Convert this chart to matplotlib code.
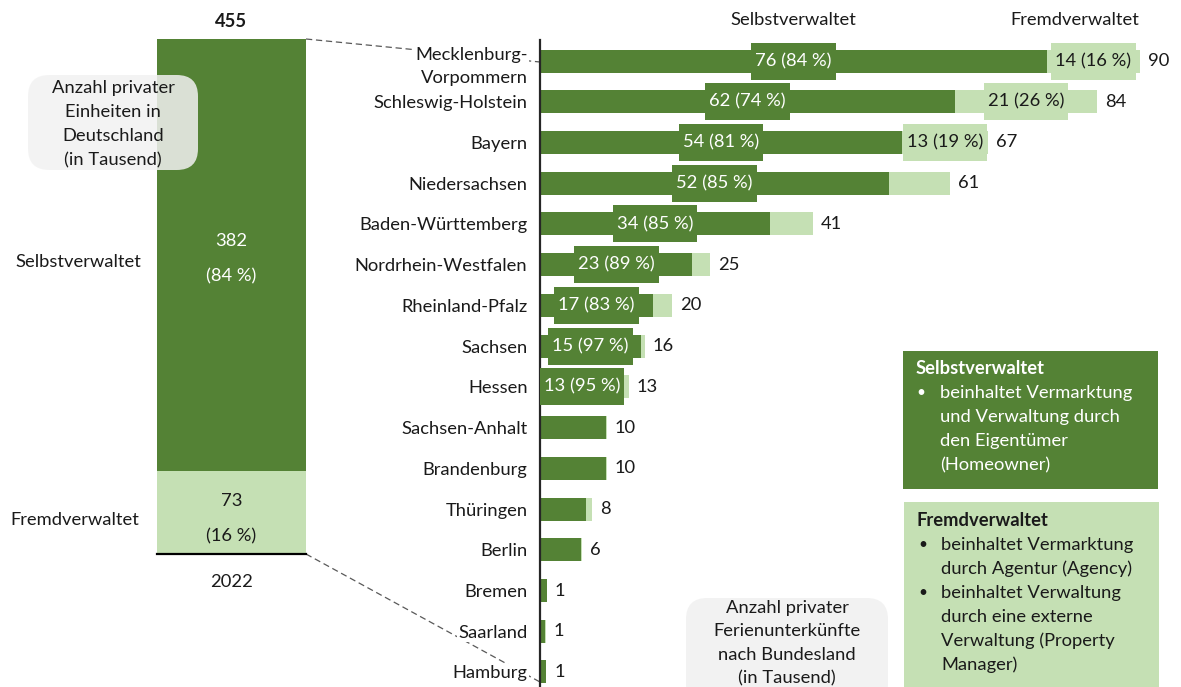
import matplotlib
matplotlib.use('Agg')
import matplotlib.pyplot as plt
from matplotlib.patches import Rectangle, FancyBboxPatch
from matplotlib.lines import Line2D

plt.rcParams['font.family'] = ['Lato', 'DejaVu Sans']

# ---------------- data ----------------
states = ["Mecklenburg-\nVorpommern", "Schleswig-Holstein", "Bayern", "Niedersachsen",
          "Baden-Württemberg", "Nordrhein-Westfalen", "Rheinland-Pfalz", "Sachsen",
          "Hessen", "Sachsen-Anhalt", "Brandenburg", "Thüringen", "Berlin", "Bremen",
          "Saarland", "Hamburg"]
selbst = [75.9, 62.1, 54.2, 52.3, 34.4, 22.8, 16.9, 15.1, 12.6, 9.9, 9.9, 6.9, 6.2, 1.0, 0.8, 0.9]
fremd = [13.9, 21.3, 12.8, 9.1, 6.5, 2.6, 2.9, 0.6, 0.7, 0.1, 0.1, 0.9, 0.05, 0.05, 0.1, 0.05]
totals = [90, 84, 67, 61, 41, 25, 20, 16, 13, 10, 10, 8, 6, 1, 1, 1]
selbst_pct = [84, 74, 81, 85, 85, 89, 83, 97, 95]
fremd_pct = [16, 26, 19]

de_selbst = 382
de_fremd = 73
de_total = 455
de_selbst_pct = 84
de_fremd_pct = 16
year = "2022"

DARK = '#548235'
LIGHT = '#C5E0B4'
GREY = '#F2F2F2'
TXT = '#1a1a1a'

W, H = 1181, 687
fig = plt.figure(figsize=(W / 100, H / 100), dpi=100)


def fx(x):
    return x / W


def fy(y):
    return 1 - y / H


FS = 13.2

# ---------------- right chart ----------------
ax = fig.add_axes([fx(540), 0, 1 - fx(540), fy(40)])
ax.patch.set_visible(False)
px_per_unit = 6.68
ax.set_xlim(0, (W - 540) / px_per_unit)
row_px = 40.7
ax.set_ylim(15 + (H - 672) / row_px, -(61 - 40) / row_px)
ypos = list(range(len(states)))
bh = 23 / row_px
ax.barh(ypos, selbst, height=bh, color=DARK, zorder=2)
ax.barh(ypos, fremd, left=selbst, height=bh, color=LIGHT, zorder=2)

for s in ['top', 'right', 'bottom']:
    ax.spines[s].set_visible(False)
ax.spines['left'].set_color('#262626')
ax.spines['left'].set_linewidth(1.6)
ax.set_xticks([])
ax.set_yticks(ypos)
ax.set_yticklabels(states, fontsize=FS, color=TXT, linespacing=1.55)
ax.tick_params(axis='y', length=0, pad=9)
for t in ax.get_yticklabels():
    t.set_bbox(dict(facecolor='white', edgecolor='none', pad=1))
ax.get_yticklabels()[0].set_y(-0.08)

# totals
for i, tot in enumerate(totals):
    ax.annotate(str(tot), (selbst[i] + fremd[i], i), xytext=(8, 0), textcoords='offset pixels',
                ha='left', va='center', fontsize=FS, color=TXT, zorder=5)

# segment labels (with boxes)
lab_texts = []
for i, p in enumerate(selbst_pct):
    t = ax.text(selbst[i] / 2, i, f"{round(selbst[i])} ({p} %)", ha='center', va='center',
                fontsize=FS, color='white', zorder=6)
    lab_texts.append((t, DARK))
for i, p in enumerate(fremd_pct):
    t = ax.text(selbst[i] + fremd[i] / 2, i, f"{round(fremd[i])} ({p} %)", ha='center', va='center',
                fontsize=FS, color=TXT, zorder=6)
    lab_texts.append((t, LIGHT))

fig.canvas.draw()
renderer = fig.canvas.get_renderer()
box_half_h = 18.5 / row_px
for t, col in lab_texts:
    bb = t.get_window_extent(renderer)
    x0 = ax.transData.inverted().transform((bb.x0 - 4, 0))[0]
    x1 = ax.transData.inverted().transform((bb.x1 + 4, 0))[0]
    yc = t.get_position()[1]
    ax.add_patch(Rectangle((x0, yc - box_half_h), x1 - x0, 2 * box_half_h,
                           facecolor=col, edgecolor='none', zorder=4))

# column headers
fig.text(fx(793), fy(20), "Selbstverwaltet", ha='center', va='center', fontsize=FS, color=TXT)
fig.text(fx(1075), fy(20), "Fremdverwaltet", ha='center', va='center', fontsize=FS, color=TXT)

# ---------------- left bar ----------------
axl = fig.add_axes([fx(157), fy(554), fx(306) - fx(157), (554 - 39) / H])
axl.patch.set_visible(False)
axl.set_xlim(-0.5, 0.5)
axl.set_ylim(0, de_total)
axl.bar([0], [de_fremd], width=1.0, color=LIGHT, zorder=2)
axl.bar([0], [de_selbst], bottom=[de_fremd], width=1.0, color=DARK, zorder=2)
axl.axis('off')
axl.plot([-0.5, 0.5], [0, 0], color='black', lw=1.6, clip_on=False, zorder=3)

cs = de_fremd + de_selbst / 2
axl.annotate(str(de_selbst), (0, cs), xytext=(0, 14), textcoords='offset pixels',
             ha='center', va='center', fontsize=FS, color='white', zorder=5)
axl.annotate(f"({de_selbst_pct} %)", (0, cs), xytext=(0, -21), textcoords='offset pixels',
             ha='center', va='center', fontsize=FS, color='white', zorder=5)
cf = de_fremd / 2
axl.annotate(str(de_fremd), (0, cf), xytext=(0, 12), textcoords='offset pixels',
             ha='center', va='center', fontsize=FS, color=TXT, zorder=5)
axl.annotate(f"({de_fremd_pct} %)", (0, cf), xytext=(0, -24), textcoords='offset pixels',
             ha='center', va='center', fontsize=FS, color=TXT, zorder=5)
axl.annotate(str(de_total), (0, de_total), xytext=(0, 17), textcoords='offset pixels',
             ha='center', va='center', fontsize=FS, color=TXT, fontweight='bold', zorder=5)
axl.annotate(year, (0, 0), xytext=(0, -28), textcoords='offset pixels',
             ha='center', va='center', fontsize=FS, color=TXT, zorder=5)

fig.text(fx(15), fy(262), "Selbstverwaltet", ha='left', va='center', fontsize=FS, color=TXT)
fig.text(fx(10), fy(520), "Fremdverwaltet", ha='left', va='center', fontsize=FS, color=TXT)

# connector lines (dashed)
for (x0, y0), (x1, y1) in [((306, 39), (540, 62)), ((306, 554), (540, 682))]:
    ln = Line2D([fx(x0), fx(x1)], [fy(y0), fy(y1)], transform=fig.transFigure,
                color='#595959', lw=0.9, ls=(0, (5, 3)), zorder=0.5, clip_on=False)
    ax.add_line(ln)

# grey info box left (semi-transparent over bar)
box1 = FancyBboxPatch((fx(28), fy(170)), fx(198) - fx(28), (170 - 75) / H,
                      boxstyle="round,pad=0,rounding_size=0.018", transform=fig.transFigure,
                      facecolor=GREY, edgecolor='none', alpha=0.85, zorder=10,
                      mutation_aspect=W / H)
fig.add_artist(box1)
for k, line in enumerate(["Anzahl privater", "Einheiten in", "Deutschland", "(in Tausend)"]):
    fig.text(fx(113), fy(88 + 24 * k), line, ha='center', va='center', fontsize=FS,
             color=TXT, zorder=11)

# grey info box bottom
box2 = FancyBboxPatch((fx(686), fy(705)), fx(888) - fx(686), (705 - 598) / H,
                      boxstyle="round,pad=0,rounding_size=0.018", transform=fig.transFigure,
                      facecolor=GREY, edgecolor='none', zorder=10, mutation_aspect=W / H)
fig.add_artist(box2)
for k, line in enumerate(["Anzahl privater", "Ferienunterkünfte", "nach Bundesland", "(in Tausend)"]):
    fig.text(fx(787), fy(608 + 23.5 * k), line, ha='center', va='center', fontsize=FS,
             color=TXT, zorder=11)

# legend box: Selbstverwaltet
fig.add_artist(Rectangle((fx(903), fy(489)), fx(1158) - fx(903), (489 - 351) / H,
                         transform=fig.transFigure, facecolor=DARK, edgecolor='none', zorder=10))
fig.text(fx(916), fy(369), "Selbstverwaltet", ha='left', va='center', fontsize=FS,
         color='white', fontweight='bold', zorder=11)
fig.text(fx(916), fy(393), "•", ha='left', va='center', fontsize=FS - 2, color='white', zorder=11)
for k, line in enumerate(["beinhaltet Vermarktung", "und Verwaltung durch", "den Eigentümer", "(Homeowner)"]):
    fig.text(fx(940), fy(393 + 24 * k), line, ha='left', va='center', fontsize=FS,
             color='white', zorder=11)

# legend box: Fremdverwaltet
fig.add_artist(Rectangle((fx(904), fy(700)), fx(1159) - fx(904), (700 - 502) / H,
                         transform=fig.transFigure, facecolor=LIGHT, edgecolor='none', zorder=10))
fig.text(fx(917), fy(521), "Fremdverwaltet", ha='left', va='center', fontsize=FS,
         color=TXT, fontweight='bold', zorder=11)
fig.text(fx(918), fy(545), "•", ha='left', va='center', fontsize=FS - 2, color=TXT, zorder=11)
fig.text(fx(918), fy(593), "•", ha='left', va='center', fontsize=FS - 2, color=TXT, zorder=11)
for k, line in enumerate(["beinhaltet Vermarktung", "durch Agentur (Agency)", "beinhaltet Verwaltung",
                          "durch eine externe", "Verwaltung (Property", "Manager)"]):
    fig.text(fx(941), fy(545 + 24 * k), line, ha='left', va='center', fontsize=FS,
             color=TXT, zorder=11)

fig.savefig('out.png', dpi=100)
